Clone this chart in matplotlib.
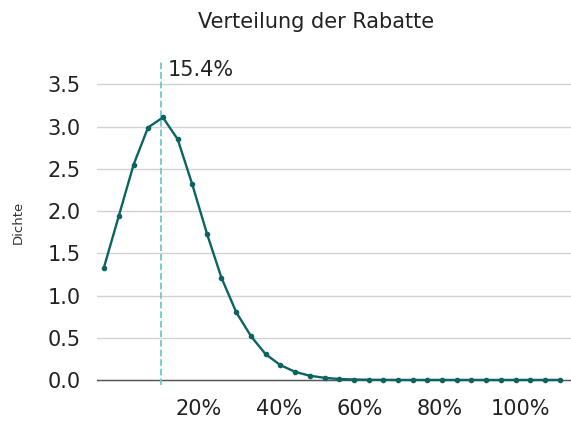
import matplotlib
matplotlib.use("Agg")
import matplotlib.pyplot as plt

# Rabatt (Anteil) und geschätzte Dichte
rabatt = [-0.037, 0.000, 0.037, 0.073, 0.110, 0.147, 0.183, 0.220,
          0.256, 0.293, 0.330, 0.366, 0.403, 0.440, 0.476, 0.513,
          0.549, 0.586, 0.623, 0.659, 0.696, 0.733, 0.769, 0.806,
          0.843, 0.879, 0.916, 0.952, 0.989, 1.026, 1.062, 1.099]
dichte = [1.33, 1.94, 2.55, 2.99, 3.11, 2.85, 2.32, 1.73,
          1.21, 0.80, 0.515, 0.305, 0.175, 0.095, 0.05, 0.025,
          0.011, 0.005, 0.002, 0.001, 0.0, 0.0, 0.0, 0.0,
          0.0, 0.0, 0.0, 0.0, 0.0, 0.0, 0.0, 0.0]
modus = 0.106
modus_label = "15.4%"
xticks = [0.2, 0.4, 0.6, 0.8, 1.0]
xtick_labels = ["20%", "40%", "60%", "80%", "100%"]
yticks = [0.0, 0.5, 1.0, 1.5, 2.0, 2.5, 3.0, 3.5]

plt.rcParams["font.family"] = ["DejaVu Sans"]

fig = plt.figure(figsize=(5.71, 4.21), dpi=100)
ax = fig.add_axes([0.170, 0.0855, 0.830, 0.772])

ax.grid(axis="y", color="#d3d3d3", linewidth=1)
ax.set_axisbelow(True)
ax.axhline(0, color="#555555", linewidth=1, zorder=2)
ax.axvline(modus, color="#6ccad2", linestyle="--", linewidth=1.3, zorder=3)
ax.plot(rabatt, dichte, color="#0b6461", linewidth=1.7, marker="o",
        markersize=3, zorder=4)
ax.text(modus + 0.017, 3.67, modus_label, fontsize=15, color="#222222",
        va="center", ha="left")

ax.set_xlim(-0.054, 1.127)
ax.set_ylim(-0.06, 3.79)
ax.set_xticks(xticks)
ax.set_xticklabels(xtick_labels)
ax.set_yticks(yticks)
ax.set_yticklabels([f"{v:.1f}" for v in yticks])
ax.tick_params(axis="x", length=0, pad=10, labelsize=15, labelcolor="#222222")
ax.tick_params(axis="y", length=0, pad=12, labelsize=15, labelcolor="#222222")
for s in ax.spines.values():
    s.set_visible(False)

ax.set_ylabel("Dichte", fontsize=9.5, color="#333333", labelpad=16)
fig.text(316 / 571, 1 - 22 / 421, "Verteilung der Rabatte", fontsize=15,
         ha="center", va="center", color="#222222")

fig.savefig("out.png", dpi=100)
